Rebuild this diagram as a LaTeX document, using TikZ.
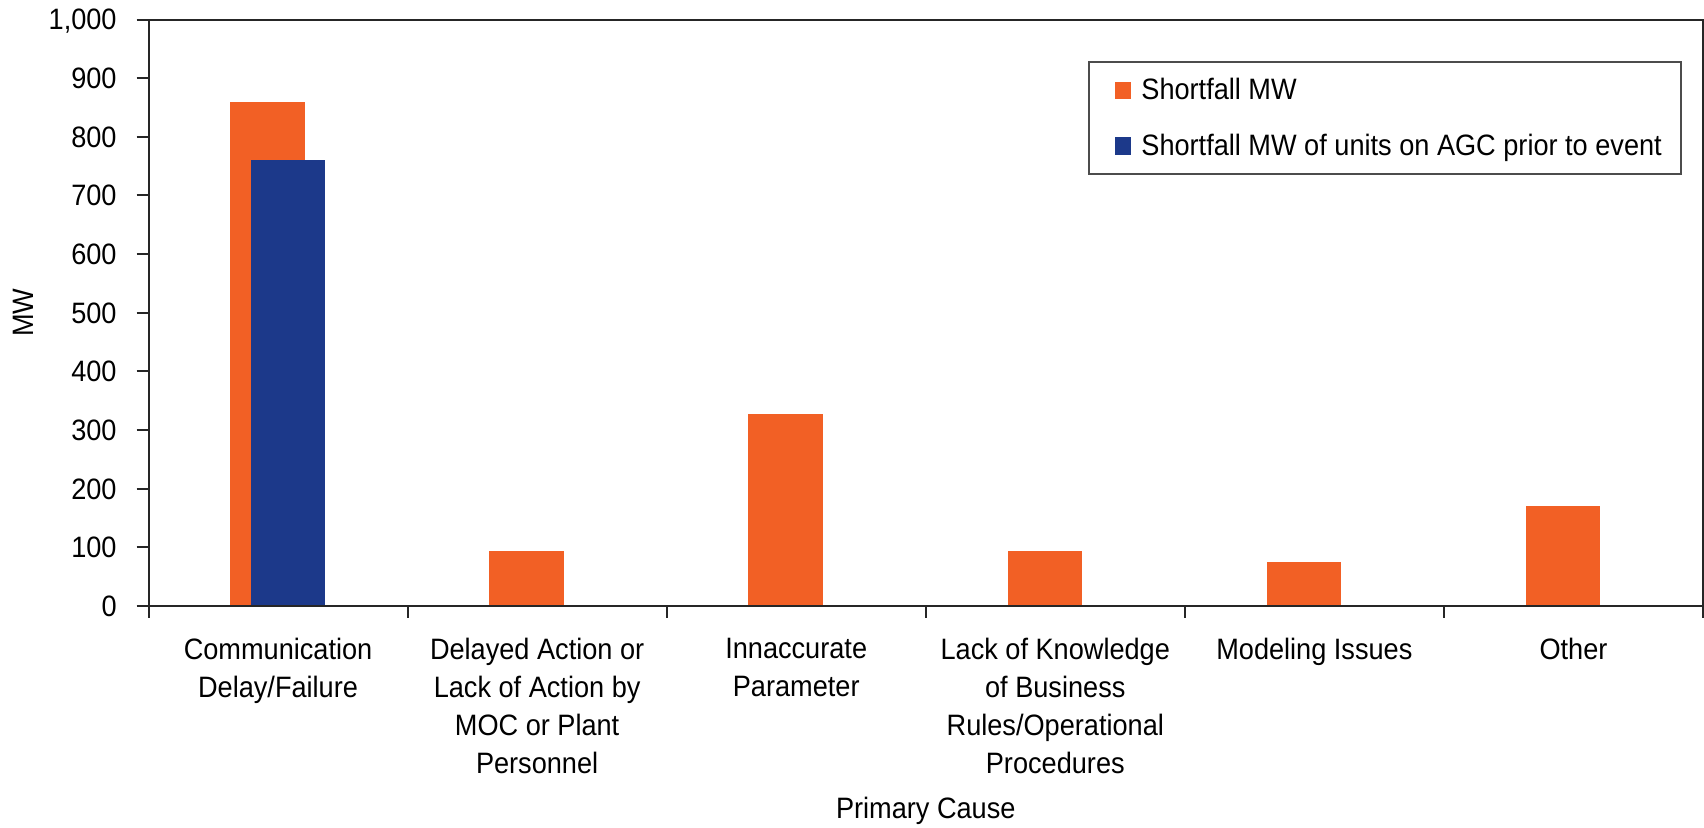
\documentclass[tikz,border=0pt]{standalone}
\usepackage{fontspec}
\setmainfont{Liberation Sans}[FakeStretch=0.92]
\usetikzlibrary{positioning}
\definecolor{shortorange}{RGB}{242,96,37}
\definecolor{agcblue}{RGB}{28,57,138}
\tikzset{axisline/.style={draw=black!85, line width=1pt},
  ticklbl/.style={anchor=east, inner sep=0pt, text depth=0pt},
  catlbl/.style={align=center, inner sep=0pt}}

\begin{document}
\begin{tikzpicture}[x=0.5pt, y=0.5pt, font=\fontsize{14.75}{19}\selectfont]
    \useasboundingbox (0,0) rectangle (1704,827);
    \coordinate (o) at (148.5,221);

    \begin{scope}[shift={(o)}, y=0.29325pt]
    \foreach \i/\v in {0/860, 1/94, 2/328, 3/94, 4/75, 5/171}
        \fill[shortorange] ({\i*259.08+129.54-47.75},0) rectangle ++(74.5,\v);
    \fill[agcblue] (129.54-27.25,0) rectangle ++(74.5,760);

    \draw[axisline] (0,0) rectangle (1554,1000);
    \foreach \v/\lbl in {0/0, 100/100, 200/200, 300/300, 400/400, 500/500,
                         600/600, 700/700, 800/800, 900/900, 1000/{1,000}} {
        \draw[axisline] (-12,\v) -- (0,\v);
        \node[ticklbl] (y\v) at (-31.5,\v) {\lbl};
    }
    \foreach \i in {0,...,6}
        \draw[axisline] ({\i*259.08},0) -- ++(0pt,-6pt);

    \foreach \i/\txt in {0/{Communication\\Delay/Failure},
                         1/{Delayed Action or\\Lack of Action by\\MOC or Plant\\Personnel},
                         2/{Innaccurate\\Parameter},
                         3/{Lack of Knowledge\\of Business\\Rules/Operational\\Procedures},
                         4/{Modeling Issues},
                         5/{Other}} {
        \coordinate (c\i) at ({\i*259.08+129.54},0);
        \node[catlbl, below=16pt of c\i] (cat\i) {\txt};
    }
    \end{scope}

    \node[anchor=base] (xtitle) at (925.75,9) {Primary Cause};
    \node[rotate=90] (ytitle) at (23.3,514.3) {MW};

    \draw[draw=black!70, line width=0.75pt] (1089,653) rectangle (1681,765);
    \fill[shortorange] (1114.6,727.7) rectangle ++(16,17.6);
    \node[anchor=base west, inner sep=0pt] (leg1) at (1141,727) {Shortfall MW};
    \fill[agcblue] (1114.6,672) rectangle ++(16,18.3);
    \node[anchor=base west, inner sep=0pt] (leg2) at (1141,672) {Shortfall MW of units on AGC prior to event};
\end{tikzpicture}
\end{document}
